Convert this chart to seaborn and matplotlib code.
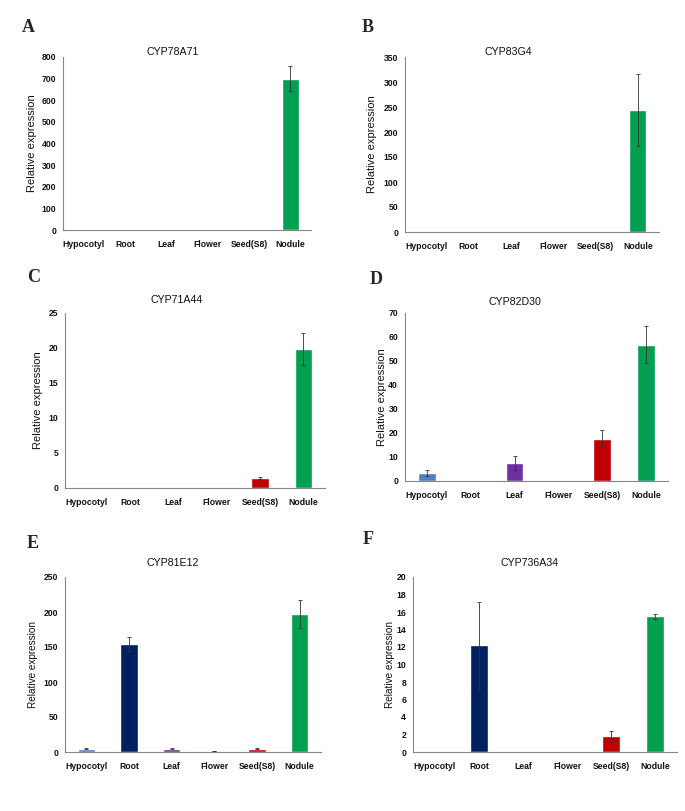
import matplotlib
matplotlib.use("Agg")
import matplotlib.pyplot as plt
import seaborn as sns
import pandas as pd
import numpy as np

sns.set_style("white")
plt.rcParams['font.family'] = ['Liberation Sans', 'DejaVu Sans']

tissues = ["Hypocotyl", "Root", "Leaf", "Flower", "Seed(S8)", "Nodule"]
colors = ["#4F81BD", "#002060", "#7030A0", "#FFC000", "#C00000", "#00A050"]

genes = ["CYP78A71", "CYP83G4", "CYP71A44", "CYP82D30", "CYP81E12", "CYP736A34"]
letters = ["A", "B", "C", "D", "E", "F"]

vals_A = [0.5, 1.5, 0.3, 0.3, 1.5, 700]
err_A = [0, 0, 0, 0, 0, 58]
vals_B = [0.2, 0.2, 0.2, 0.2, 0.8, 244]
err_B = [0, 0, 0, 0, 0, 72]
vals_C = [0.02, 0.02, 0.02, 0.02, 1.4, 19.9]
err_C = [0, 0, 0, 0, 0.15, 2.3]
vals_D = [3.2, 0.1, 7.5, 0.1, 17.7, 56.8]
err_D = [1.2, 0, 2.8, 0, 3.5, 7.7]
vals_E = [4.8, 155, 4.8, 1.5, 4.8, 197]
err_E = [0.5, 10, 1.0, 0.5, 0.8, 20]
vals_F = [0.02, 12.2, 0.02, 0.02, 1.8, 15.5]
err_F = [0, 5.0, 0, 0, 0.6, 0.3]

ymax = [800, 350, 25, 70, 250, 20]
ystep = [100, 50, 5, 10, 50, 2]

all_vals = [vals_A, vals_B, vals_C, vals_D, vals_E, vals_F]
all_errs = [err_A, err_B, err_C, err_D, err_E, err_F]

W, H = 685, 811
# axes boxes in pixels: left, right, top, bottom
boxes = [(63, 311, 57, 230), (405, 659, 57, 232),
         (65, 325, 313, 488), (405, 668, 313, 481),
         (65, 321, 577, 752), (413, 677, 577, 752)]
titles_pos = [(173, 52), (508, 52), (177, 300), (515, 302), (173, 563), (530, 563)]
letter_pos = [(22, 27), (362, 27), (27, 278), (370, 280), (27, 543), (363, 540)]
ylabel_x = [32, 372, 38, 382, 33, 390]
ylabel_fs = [8, 8, 8, 8, 7.2, 7.2]

fig = plt.figure(figsize=(W / 100, H / 100), dpi=100)
axis_col = "#868686"

for i in range(6):
    l, r, t, b = boxes[i]
    ax = fig.add_axes([l / W, 1 - b / H, (r - l) / W, (b - t) / H])
    df = pd.DataFrame({"tissue": tissues, "value": all_vals[i]})
    sns.barplot(data=df, x="tissue", y="value", hue="tissue", palette=colors,
                width=0.4, legend=False, ax=ax, saturation=1, errorbar=None)
    xs = np.arange(len(tissues))
    ax.errorbar(xs, all_vals[i], yerr=all_errs[i], fmt="none", ecolor="#333333",
                elinewidth=0.6, capsize=1.5, capthick=0.6)
    ax.set_xlim(-0.5, 5.5)
    ax.set_ylim(0, ymax[i])
    ax.set_yticks(np.arange(0, ymax[i] + ystep[i] / 2, ystep[i]))
    ax.set_xticks(xs)
    ax.set_xticks(np.arange(-0.5, 6, 1), minor=True)
    ax.tick_params(axis="x", which="major", length=0, pad=7)
    ax.tick_params(axis="x", which="minor", length=3, color=axis_col, width=0.8, direction="out")
    ax.tick_params(axis="y", length=3, color=axis_col, width=0.8, direction="out", pad=2)
    for lab in ax.get_xticklabels() + ax.get_yticklabels():
        lab.set_fontsize(6.2)
        lab.set_fontweight("bold")
        lab.set_color("#111111")
    for s in ["top", "right"]:
        ax.spines[s].set_visible(False)
    for s in ["left", "bottom"]:
        ax.spines[s].set_color(axis_col)
        ax.spines[s].set_linewidth(0.8)
    ax.set_xlabel("")
    ax.set_ylabel("Relative expression", fontsize=ylabel_fs[i], color="#111111")
    ax.yaxis.label.set_va("center")
    ax.yaxis.set_label_coords((ylabel_x[i] - l) / (r - l), 0.5)
    tx, ty = titles_pos[i]
    fig.text(tx / W, 1 - ty / H, genes[i], ha="center", va="center", fontsize=7.7, color="#111111")
    lx, ly = letter_pos[i]
    fig.text(lx / W, 1 - ly / H, letters[i], ha="left", va="center", fontsize=13,
             fontweight="bold", family=["Liberation Serif", "DejaVu Serif"])

fig.savefig("out.png", dpi=100)
